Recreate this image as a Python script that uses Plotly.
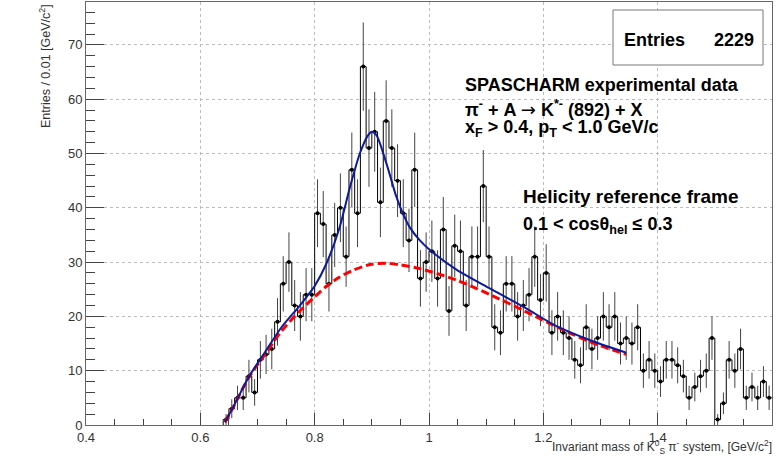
import numpy as np
import plotly.graph_objects as go

# ---------------- data ----------------
bin_width = 0.01
bin_low = [round(0.64 + 0.01 * i, 2) for i in range(96)]  # lower bin edges 0.64 .. 1.59
counts = [1, 3, 5, 5, 9, 6, 12, 13, 14, 19,
          26, 30, 22, 20, 24, 24, 39, 37, 26, 35,
          40, 31, 47, 39, 66, 51, 54, 41, 56, 51,
          45, 39, 34, 47, 27, 30, 32, 27, 36, 21,
          33, 32, 22, 31, 31, 44, 31, 18, 17, 26,
          26, 20, 22, 24, 31, 23, 28, 17, 20, 17,
          16, 12, 11, 18, 14, 16, 20, 18, 20, 15,
          16, 15, 18, 10, 12, 10, 8, 12, 12, 11,
          9, 5, 7, 9, 10, 16, 1, 4, 12, 10,
          14, 5, 7, 5, 8, 5]

# total fit (signal + background)
fit_x = [0.643, 0.66, 0.684, 0.713, 0.742, 0.774, 0.80, 0.82, 0.843, 0.861, 0.879,
         0.893, 0.90, 0.908, 0.926, 0.943, 0.955, 0.967, 0.984, 1.002, 1.048, 1.107,
         1.165, 1.223, 1.282, 1.345]
fit_y = [0.5, 3.8, 8.7, 13.4, 18.0, 22.0, 25.6, 29.6, 36.2, 43.5, 50.0,
         53.3, 54.0, 53.4, 48.0, 42.0, 38.8, 36.3, 34.0, 32.2, 28.6, 25.1,
         21.8, 18.2, 15.6, 13.3]
# background only
bkg_x = [0.643, 0.66, 0.684, 0.713, 0.742, 0.774, 0.80, 0.82, 0.843, 0.867,
         0.899, 0.926, 0.949, 0.984, 1.048, 1.107, 1.165, 1.223, 1.282, 1.345]
bkg_y = [0.5, 3.8, 8.6, 13.0, 17.3, 21.0, 23.6, 25.5, 27.2, 28.5,
         29.6, 29.8, 29.5, 28.8, 26.7, 24.0, 21.1, 18.1, 15.3, 13.0]

x_ticks = [0.4, 0.6, 0.8, 1.0, 1.2, 1.4, 1.6]
x_tick_labels = ["0.4", "0.6", "0.8", "1", "1.2", "1.4", "1.6"]
y_ticks = [0, 10, 20, 30, 40, 50, 60, 70]
entries = 2229

# ---------------- figure ----------------
W, H = 776, 461
ML, MR, MT, MB = 86, 4, 2, 36
PW, PH = W - ML - MR, H - MT - MB

def px(x):
    return (x - ML) / PW

def py(y):
    return (H - MB - y) / PH

FONT = "Liberation Sans, Arial, Helvetica, sans-serif"

centers = [b + bin_width / 2 for b in bin_low]
errs = list(np.sqrt(np.array(counts, dtype=float)))

step_x = [bin_low[0]] + bin_low + [bin_low[-1] + bin_width]
step_y = [0] + counts + [counts[-1]]

fig = go.Figure()
fig.add_trace(go.Scatter(x=step_x, y=step_y, mode="lines", line=dict(color="black", width=1, shape="hv"),
                         hoverinfo="skip", showlegend=False))
fig.add_trace(go.Scatter(x=centers, y=counts, mode="markers",
                         marker=dict(color="black", size=4),
                         error_y=dict(type="data", array=errs, visible=True, color="#444444", thickness=1, width=0),
                         showlegend=False))
fig.add_trace(go.Scatter(x=bkg_x, y=bkg_y, mode="lines",
                         line=dict(color="#ff0000", width=3, dash="8px,4px", shape="spline", smoothing=0.8),
                         showlegend=False))
fig.add_trace(go.Scatter(x=fit_x, y=fit_y, mode="lines",
                         line=dict(color="#0d1a9a", width=2, shape="spline", smoothing=0.8),
                         showlegend=False))

axis_common = dict(showline=True, linecolor="#666666", linewidth=1, mirror=True,
                   ticks="inside", tickcolor="#444444", showgrid=True,
                   gridcolor="#bbbbbb", griddash="dot", gridwidth=1, zeroline=False,
                   tickfont=dict(family=FONT, size=13, color="#333333"))

fig.update_layout(
    width=W, height=H,
    margin=dict(l=ML, r=MR, t=MT, b=MB),
    paper_bgcolor="white", plot_bgcolor="white",
    xaxis=dict(range=[0.4, 1.6], tickvals=x_ticks, ticktext=x_tick_labels, ticklen=12,
               minor=dict(dtick=0.05, tick0=0.4, ticks="inside", ticklen=6, tickcolor="#444444", showgrid=False),
               **axis_common),
    yaxis=dict(range=[0, 77.9], tickvals=y_ticks, ticklen=18,
               minor=dict(dtick=2, tick0=0, ticks="inside", ticklen=9, tickcolor="#444444", showgrid=False),
               **axis_common),
)

# stats box
fig.add_shape(type="rect", xref="paper", yref="paper", x0=px(613), x1=px(763), y0=py(65), y1=py(10),
              line=dict(color="#777777", width=1), fillcolor="white", layer="above")

ARROW = '<span style="font-family:DejaVu Sans;font-weight:normal">→</span>'
annos = [
    dict(text="<b>Entries</b>", x=px(622), y=py(40), xanchor="left", size=18),
    dict(text="<b>%d</b>" % entries, x=px(756), y=py(40), xanchor="right", size=18),
    dict(text="<b>SPASCHARM experimental data</b>", x=px(463), y=py(85), xanchor="left", size=18),
    dict(text="<b>π<sup>-</sup> + A </b>" + ARROW + "<b> K<sup>*-</sup> (892) + X</b>", x=px(463), y=py(108), xanchor="left", size=18),
    dict(text="<b>x<sub>F</sub> &gt; 0.4, p<sub>T</sub> &lt; 1.0 GeV/c</b>", x=px(463), y=py(128), xanchor="left", size=18),
    dict(text="<b>Helicity reference frame</b>", x=px(521), y=py(196), xanchor="left", size=19),
    dict(text="<b>0.1 &lt; cosθ<sub>hel</sub> ≤ 0.3</b>", x=px(521), y=py(225), xanchor="left", size=18),
]
for a in annos:
    fig.add_annotation(text=a["text"], x=a["x"], y=a["y"], xref="paper", yref="paper",
                       xanchor=a["xanchor"], yanchor="middle", showarrow=False,
                       font=dict(family=FONT, size=a["size"], color="black"))

# axis titles
fig.add_annotation(text="Invariant mass of K<sup>0</sup><sub>S</sub> π<sup>-</sup> system, [GeV/c<sup>2</sup>]",
                   x=px(774), y=py(447), xref="paper", yref="paper", xanchor="right", yanchor="middle",
                   showarrow=False, font=dict(family=FONT, size=12, color="#333333"))
fig.add_annotation(text="Entries / 0.01 [GeV/c<sup>2</sup>]", textangle=-90,
                   x=px(45), y=py(2), xref="paper", yref="paper", xanchor="center", yanchor="top",
                   showarrow=False, font=dict(family=FONT, size=12.5, color="#333333"))

fig.write_html("out.html")
